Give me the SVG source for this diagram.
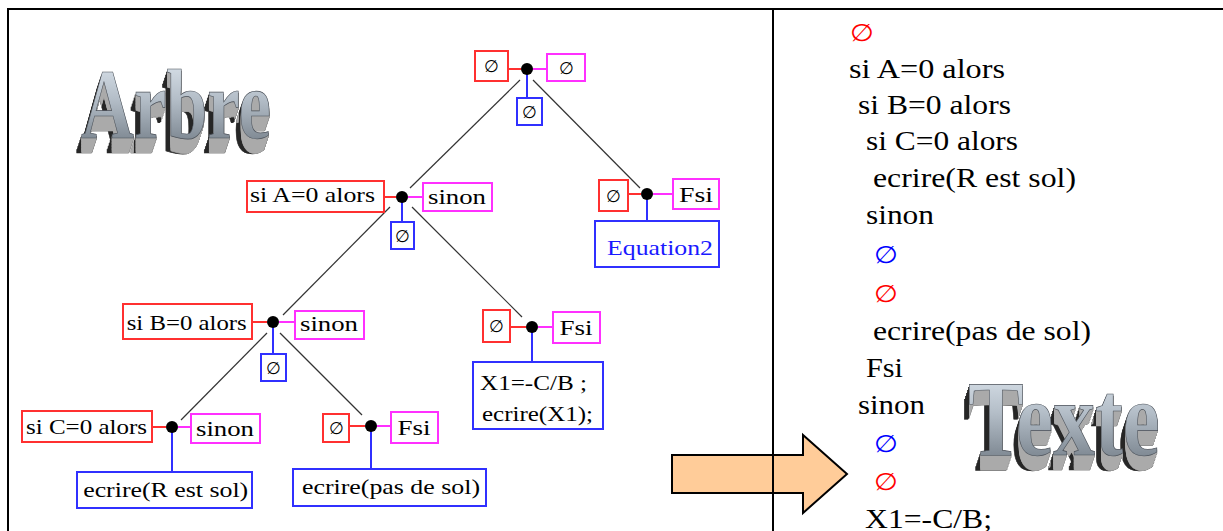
<svg xmlns="http://www.w3.org/2000/svg" width="1223" height="531" viewBox="0 0 1223 531">
<style>
.t{font-family:"Liberation Serif","Times New Roman",Times,serif;font-size:21px;fill:#000}
.e{font-family:"DejaVu Serif","Liberation Serif",serif;font-size:17px;fill:#000}
.rb{fill:#fff;stroke:#ff3030;stroke-width:2}
.mb{fill:#fff;stroke:#ff30ff;stroke-width:2}
.bb{fill:#fff;stroke:#3030ff;stroke-width:2}
.rl{stroke:#ff3030;stroke-width:2}
.ml{stroke:#ff30ff;stroke-width:2}
.bl{stroke:#3030ff;stroke-width:2}
.dg{stroke:#333;stroke-width:1.2}
.dot{fill:#000}
.p{font-family:"Liberation Serif","Times New Roman",Times,serif;font-size:27px;fill:#000}
.pe{font-family:"DejaVu Serif","Liberation Serif",serif;font-size:24px}
.w{font-family:"Liberation Serif","Times New Roman",Times,serif;font-weight:bold;fill:url(#fg);stroke:#4a5058;stroke-width:0.7;filter:url(#x3d)}
</style>
<defs>
<linearGradient id="fg" x1="0" y1="0" x2="0" y2="1">
<stop offset="0" stop-color="#e4ecf4"/>
<stop offset="0.45" stop-color="#b4bec8"/>
<stop offset="1" stop-color="#66707a"/>
</linearGradient>
<filter id="x3d" x="-0.1" y="-0.1" width="1.2" height="1.5" color-interpolation-filters="sRGB">
<feOffset in="SourceAlpha" dx="-0.5" dy="1.5" result="a1"/>
<feOffset in="SourceAlpha" dx="-1" dy="3" result="a2"/>
<feOffset in="SourceAlpha" dx="-1.5" dy="4.5" result="a3"/>
<feOffset in="SourceAlpha" dx="-2" dy="6" result="a4"/>
<feOffset in="SourceAlpha" dx="-2.5" dy="7.5" result="a5"/>
<feOffset in="SourceAlpha" dx="-3" dy="9" result="a6"/>
<feOffset in="SourceAlpha" dx="-3.5" dy="10.5" result="a7"/>
<feOffset in="SourceAlpha" dx="-4" dy="12" result="a8"/>
<feOffset in="SourceAlpha" dx="-4.5" dy="13.5" result="a9"/>
<feOffset in="SourceAlpha" dx="-5" dy="15" result="a10"/>
<feMerge result="E"><feMergeNode in="a1"/><feMergeNode in="a2"/><feMergeNode in="a3"/><feMergeNode in="a4"/><feMergeNode in="a5"/><feMergeNode in="a6"/><feMergeNode in="a7"/><feMergeNode in="a8"/><feMergeNode in="a9"/><feMergeNode in="a10"/></feMerge>
<feOffset in="SourceAlpha" dx="0" dy="1.5" result="v1"/>
<feOffset in="SourceAlpha" dx="0" dy="3" result="v2"/>
<feOffset in="SourceAlpha" dx="0" dy="4.5" result="v3"/>
<feOffset in="SourceAlpha" dx="0" dy="6" result="v4"/>
<feOffset in="SourceAlpha" dx="0" dy="7.5" result="v5"/>
<feOffset in="SourceAlpha" dx="0" dy="9" result="v6"/>
<feOffset in="SourceAlpha" dx="0" dy="10.5" result="v7"/>
<feOffset in="SourceAlpha" dx="0" dy="12" result="v8"/>
<feOffset in="SourceAlpha" dx="0" dy="13.5" result="v9"/>
<feOffset in="SourceAlpha" dx="0" dy="15" result="v10"/>
<feMerge result="V"><feMergeNode in="v1"/><feMergeNode in="v2"/><feMergeNode in="v3"/><feMergeNode in="v4"/><feMergeNode in="v5"/><feMergeNode in="v6"/><feMergeNode in="v7"/><feMergeNode in="v8"/><feMergeNode in="v9"/><feMergeNode in="v10"/></feMerge>
<feFlood flood-color="#262626" result="dk"/>
<feComposite in="dk" in2="E" operator="in" result="Ed"/>
<feComposite in="V" in2="E" operator="in" result="VE"/>
<feFlood flood-color="#aaaaaa" result="lt"/>
<feComposite in="lt" in2="VE" operator="in" result="Vl"/>
<feMerge><feMergeNode in="Ed"/><feMergeNode in="Vl"/><feMergeNode in="SourceGraphic"/></feMerge>
</filter>
</defs>
<rect width="1223" height="531" fill="#fff"/>

<g id="arrow">
<polygon points="672,455 803,455 803,435 847,474 803,513 803,493 672,493" fill="#ffcc99" stroke="#000" stroke-width="2"/>
</g>

<g id="frame" stroke="#000" stroke-width="2" fill="none">
<line x1="7" y1="9" x2="1223" y2="9"/>
<line x1="8" y1="9" x2="8" y2="531"/>
<line x1="773" y1="9" x2="773" y2="531"/>
</g>

<g id="title-arbre">
<text class="w" x="81" y="138" font-size="100" textLength="190" lengthAdjust="spacingAndGlyphs">Arbre</text>
</g>

<g id="connectors">
<line class="dg" x1="520" y1="80" x2="410" y2="188"/>
<line class="dg" x1="533" y1="80" x2="640" y2="188"/>
<line class="dg" x1="390" y1="207" x2="283" y2="315"/>
<line class="dg" x1="412" y1="207" x2="522" y2="317"/>
<line class="dg" x1="267" y1="333" x2="181" y2="420"/>
<line class="dg" x1="280" y1="333" x2="362" y2="415"/>
<line class="rl" x1="508" y1="69" x2="521" y2="69"/>
<line class="ml" x1="533" y1="69" x2="547" y2="69"/>
<line class="bl" x1="527" y1="69" x2="527" y2="98"/>
<line class="rl" x1="384" y1="197" x2="396" y2="197"/>
<line class="ml" x1="408" y1="197" x2="423" y2="197"/>
<line class="bl" x1="402" y1="197" x2="402" y2="222"/>
<line class="rl" x1="628" y1="194" x2="641" y2="194"/>
<line class="ml" x1="653" y1="194" x2="673" y2="194"/>
<line class="bl" x1="647" y1="194" x2="647" y2="221"/>
<line class="rl" x1="252" y1="322" x2="267" y2="322"/>
<line class="ml" x1="279" y1="322" x2="295" y2="322"/>
<line class="bl" x1="273" y1="322" x2="273" y2="354"/>
<line class="rl" x1="152" y1="427" x2="166" y2="427"/>
<line class="ml" x1="178" y1="427" x2="191" y2="427"/>
<line class="bl" x1="172" y1="427" x2="172" y2="472"/>
<line class="rl" x1="349" y1="426" x2="365" y2="426"/>
<line class="ml" x1="377" y1="426" x2="391" y2="426"/>
<line class="bl" x1="371" y1="426" x2="371" y2="469"/>
<line class="rl" x1="510" y1="327" x2="526" y2="327"/>
<line class="ml" x1="538" y1="327" x2="553" y2="327"/>
<line class="bl" x1="532" y1="327" x2="532" y2="362"/>
</g>

<g id="node-root">
<circle class="dot" cx="527" cy="69" r="6"/>
<rect class="rb" x="475" y="51" width="33" height="30"/>
<text class="e" x="491.5" y="72" text-anchor="middle">∅</text>
<rect class="mb" x="547" y="54" width="38" height="27"/>
<text class="e" x="566" y="74" text-anchor="middle">∅</text>
<rect class="bb" x="517" y="98" width="25" height="27"/>
<text class="e" x="529.5" y="118" text-anchor="middle">∅</text>
</g>

<g id="node-a">
<circle class="dot" cx="402" cy="197" r="6"/>
<rect class="rb" x="247" y="181" width="137" height="31"/>
<text class="t" x="312.5" y="202" text-anchor="middle" textLength="125" lengthAdjust="spacingAndGlyphs">si A=0 alors</text>
<rect class="mb" x="423" y="183" width="69" height="28"/>
<text class="t" x="457" y="204" text-anchor="middle" textLength="58" lengthAdjust="spacingAndGlyphs">sinon</text>
<rect class="bb" x="391" y="222" width="23" height="27"/>
<text class="e" x="402.5" y="242" text-anchor="middle">∅</text>
</g>

<g id="node-eq2">
<circle class="dot" cx="647" cy="194" r="6"/>
<rect class="rb" x="599" y="180" width="29" height="31"/>
<text class="e" x="613.5" y="202" text-anchor="middle">∅</text>
<rect class="mb" x="673" y="179" width="46" height="30"/>
<text class="t" x="696" y="202" text-anchor="middle" textLength="34" lengthAdjust="spacingAndGlyphs">Fsi</text>
<rect class="bb" x="595" y="221" width="124" height="46"/>
<text class="t" x="660" y="255" text-anchor="middle" textLength="106" lengthAdjust="spacingAndGlyphs" style="fill:#1a1aff">Equation2</text>
</g>

<g id="node-b">
<circle class="dot" cx="273" cy="322" r="6"/>
<rect class="rb" x="123" y="304" width="129" height="35"/>
<text class="t" x="186.7" y="330" text-anchor="middle" textLength="120" lengthAdjust="spacingAndGlyphs">si B=0 alors</text>
<rect class="mb" x="295" y="311" width="69" height="28"/>
<text class="t" x="329" y="331" text-anchor="middle" textLength="58" lengthAdjust="spacingAndGlyphs">sinon</text>
<rect class="bb" x="261" y="354" width="25" height="27"/>
<text class="e" x="273.5" y="374" text-anchor="middle">∅</text>
</g>

<g id="node-c">
<circle class="dot" cx="172" cy="427" r="6"/>
<rect class="rb" x="22" y="411" width="130" height="31"/>
<text class="t" x="86.5" y="434" text-anchor="middle" textLength="121" lengthAdjust="spacingAndGlyphs">si C=0 alors</text>
<rect class="mb" x="191" y="414" width="69" height="29"/>
<text class="t" x="225" y="436" text-anchor="middle" textLength="58" lengthAdjust="spacingAndGlyphs">sinon</text>
<rect class="bb" x="77" y="472" width="175" height="36"/>
<text class="t" x="165.7" y="497" text-anchor="middle" textLength="165" lengthAdjust="spacingAndGlyphs">ecrire(R est sol)</text>
</g>

<g id="node-d">
<circle class="dot" cx="371" cy="426" r="6"/>
<rect class="rb" x="323" y="414" width="26" height="28"/>
<text class="e" x="336" y="434" text-anchor="middle">∅</text>
<rect class="mb" x="391" y="412" width="47" height="31"/>
<text class="t" x="414" y="435" text-anchor="middle" textLength="33" lengthAdjust="spacingAndGlyphs">Fsi</text>
<rect class="bb" x="293" y="469" width="193" height="37"/>
<text class="t" x="391" y="494" text-anchor="middle" textLength="178" lengthAdjust="spacingAndGlyphs">ecrire(pas de sol)</text>
</g>

<g id="node-e">
<circle class="dot" cx="532" cy="327" r="6"/>
<rect class="rb" x="483" y="310" width="27" height="32"/>
<text class="e" x="496.5" y="332" text-anchor="middle">∅</text>
<rect class="mb" x="553" y="312" width="47" height="31"/>
<text class="t" x="576" y="335" text-anchor="middle" textLength="33" lengthAdjust="spacingAndGlyphs">Fsi</text>
<rect class="bb" x="473" y="362" width="130" height="67"/>
<text class="t" x="480" y="390" textLength="107" lengthAdjust="spacingAndGlyphs">X1=-C/B ;</text>
<text class="t" x="482" y="421" textLength="111" lengthAdjust="spacingAndGlyphs">ecrire(X1);</text>
</g>

<g id="texte-panel">
<text class="pe" x="850" y="41" fill="#ff0000" textLength="24" lengthAdjust="spacingAndGlyphs">∅</text>
<text class="p" x="849" y="78" textLength="156" lengthAdjust="spacingAndGlyphs">si A=0 alors</text>
<text class="p" x="858" y="114" textLength="153" lengthAdjust="spacingAndGlyphs">si B=0 alors</text>
<text class="p" x="866" y="150" textLength="152" lengthAdjust="spacingAndGlyphs">si C=0 alors</text>
<text class="p" x="873" y="187" textLength="203" lengthAdjust="spacingAndGlyphs">ecrire(R est sol)</text>
<text class="p" x="866" y="224" textLength="68" lengthAdjust="spacingAndGlyphs">sinon</text>
<text class="pe" x="874" y="263" fill="#0000ff" textLength="24" lengthAdjust="spacingAndGlyphs">∅</text>
<text class="pe" x="874" y="302" fill="#ff0000" textLength="24" lengthAdjust="spacingAndGlyphs">∅</text>
<text class="p" x="873" y="340" textLength="218" lengthAdjust="spacingAndGlyphs">ecrire(pas de sol)</text>
<text class="p" x="866" y="377" textLength="37" lengthAdjust="spacingAndGlyphs">Fsi</text>
<text class="p" x="858" y="414" textLength="67" lengthAdjust="spacingAndGlyphs">sinon</text>
<text class="pe" x="874" y="452" fill="#0000ff" textLength="24" lengthAdjust="spacingAndGlyphs">∅</text>
<text class="pe" x="874" y="490" fill="#ff0000" textLength="24" lengthAdjust="spacingAndGlyphs">∅</text>
<text class="p" x="865" y="528" textLength="127" lengthAdjust="spacingAndGlyphs">X1=-C/B;</text>
</g>

<g id="title-texte">
<text class="w" x="968" y="455" font-size="108" textLength="192" lengthAdjust="spacingAndGlyphs">Texte</text>
</g>
</svg>
